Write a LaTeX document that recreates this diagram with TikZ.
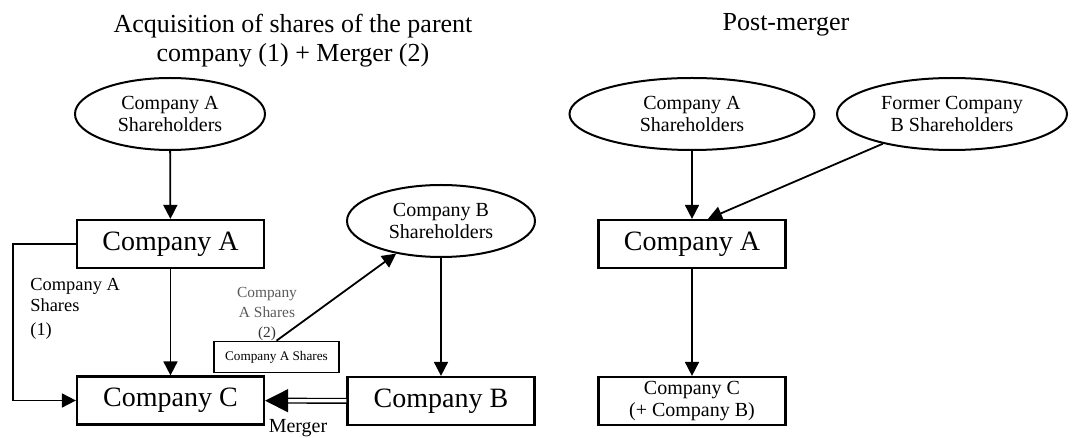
\documentclass[tikz,border=0pt]{standalone}
\usepackage{fontspec}
\setmainfont{Liberation Serif}
\usetikzlibrary{arrows.meta, shapes.geometric}
\definecolor{notegray}{RGB}{90,90,90}

\begin{document}
\begin{tikzpicture}[x=0.5pt, y=-0.5pt,
  owner/.style={draw, ellipse, line width=1pt, inner sep=0pt, minimum height=36pt,
    align=center, font=\fontsize{10}{11}\selectfont},
  firm/.style={draw, rectangle, line width=1.1pt, inner sep=0pt, minimum width=93.5pt,
    minimum height=24pt, align=center, font=\fontsize{14}{16}\selectfont},
  flow/.style={line width=0.9pt, -{Triangle[length=7pt, width=7pt]}}]
  \useasboundingbox (0,0) rectangle (1073,438);
  % Titles
  \node[align=center, anchor=north, inner sep=0pt, font=\fontsize{13}{14.5}\selectfont] (titleL) at (293,14)
    {Acquisition of shares of the parent\\company (1) + Merger (2)};
  \node[anchor=base, inner sep=0pt, font=\fontsize{13}{14.5}\selectfont] (titleR) at (786,31) {Post-merger};
  % Before: acquisition + merger
  \node[owner, minimum width=95pt] (ShAL) at (170,114) {Company A\\Shareholders};
  \node[firm] (CoAL) at (170.5,244) {Company A};
  \node[firm] (CoCL) at (170.5,400.5) {Company C};
  \node[owner, minimum width=94pt] (ShBL) at (441,221) {Company B\\Shareholders};
  \node[firm] (CoBL) at (441,401) {Company B};
  \node[draw, line width=0.8pt, inner sep=0pt, minimum width=62.5pt, minimum height=15.5pt,
    font=\fontsize{6.6}{8}\selectfont] (SharesBox) at (276.5,357) {Company A Shares};
  \draw[flow] (ShAL) -- (CoAL);
  \draw[flow] (CoAL) -- (CoCL);
  \draw[flow] (CoAL.west) -- ++(-63,0) |- (CoCL.west);
  \draw[flow] (ShBL) -- (CoBL);
  \draw[flow] (SharesBox.north) -- (ShBL);
  \draw[line width=0.7pt, double distance=1.6pt, -{Triangle[length=11.5pt, width=11.5pt]}] (CoBL) -- (CoCL);
  \node[anchor=north west, inner sep=0pt, align=left, font=\fontsize{9.2}{10.5}\selectfont] (noteOne) at (30,278)
    {Company A\\Shares\\[1.5pt](1)};
  \node[anchor=north, inner sep=0pt, align=center, text=notegray, font=\fontsize{7.7}{10}\selectfont] (noteTwo) at (267,287)
    {Company\\A Shares\\{\color{black!80}(2)}};
  \node[anchor=base, inner sep=0pt, font=\fontsize{10}{12}\selectfont] (mergeLbl) at (298,433) {Merger};
  % After the merger
  \node[owner, minimum width=122.5pt] (ShAR) at (692,114) {Company A\\Shareholders};
  \node[owner, minimum width=115pt] (ShFB) at (952,114) {Former Company\\B Shareholders};
  \node[firm] (CoAR) at (692,244) {Company A};
  \node[firm, font=\fontsize{10}{11}\selectfont] (CoCR) at (692,401) {Company C\\(+ Company B)};
  \draw[flow] (ShAR) -- (CoAR);
  \draw[flow] (ShFB) -- ([xshift=8pt]CoAR.north);
  \draw[flow] (CoAR) -- (CoCR);
\end{tikzpicture}
\end{document}
